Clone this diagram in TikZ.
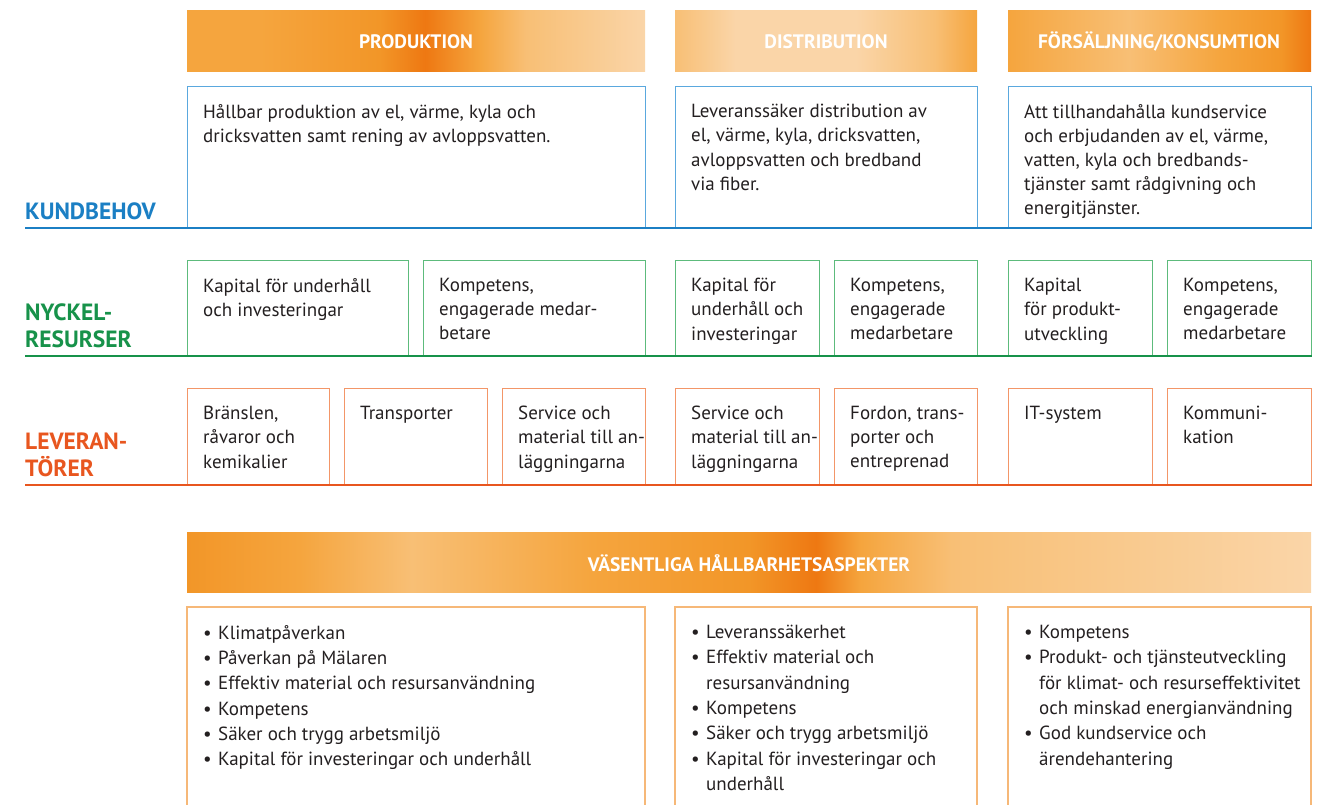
\documentclass[tikz,border=0pt]{standalone}
\usepackage{fontspec}
\setmainfont{PT Sans}
\usetikzlibrary{positioning}

\definecolor{kundblaa}{HTML}{1B7FC4}
\definecolor{kundram}{HTML}{5AA8DE}
\definecolor{nyckelgron}{HTML}{17924A}
\definecolor{nyckelram}{HTML}{5DBB7C}
\definecolor{levorange}{HTML}{E8561F}
\definecolor{levram}{HTML}{F39668}
\definecolor{aspram}{HTML}{F6B878}
\definecolor{textgra}{HTML}{231F20}
\definecolor{oblek}{HTML}{FAD5A8}
\definecolor{oljus}{HTML}{F8BF75}
\definecolor{omitt}{HTML}{F5A53E}
\definecolor{ostark}{HTML}{F29628}
\definecolor{omork}{HTML}{EE7812}

% toningar for rubrikfalten
\pgfdeclarehorizontalshading{prodsk}{100bp}{color(0bp)=(omitt); color(25bp)=(omitt); color(33bp)=(omitt); color(46bp)=(ostark); color(51bp)=(omork); color(57bp)=(omitt); color(62bp)=(oljus); color(75bp)=(oblek); color(100bp)=(oblek)}
\pgfdeclarehorizontalshading{distsk}{100bp}{color(0bp)=(oljus); color(25bp)=(oljus); color(35bp)=(oblek); color(55bp)=(oblek); color(68bp)=(oljus); color(75bp)=(omitt); color(100bp)=(omitt)}
\pgfdeclarehorizontalshading{forssk}{100bp}{color(0bp)=(omitt); color(25bp)=(omitt); color(45bp)=(oljus); color(60bp)=(omitt); color(70bp)=(ostark); color(75bp)=(omork); color(100bp)=(omork)}
\pgfdeclarehorizontalshading{vassk}{100bp}{color(0bp)=(ostark); color(25bp)=(ostark); color(30bp)=(omitt); color(35bp)=(oljus); color(43bp)=(omitt); color(50bp)=(ostark); color(53bp)=(omork); color(55bp)=(omitt); color(59bp)=(oljus); color(75bp)=(oblek); color(100bp)=(oblek)}

\tikzset{
  rubrik/.style={text=white, font=\bfseries\fontsize{19.5}{22}\selectfont, inner sep=0pt},
  etikett/.style={font=\bfseries\fontsize{23.5}{27}\selectfont, align=left, inner sep=0pt, anchor=base west},
  ruta/.style={draw, line width=1.2pt, anchor=north west, inner sep=0pt},
  brodtext/.style={text=textgra, font=\fontsize{19}{24.2}\selectfont, align=left, inner sep=0pt, anchor=north west, execute at begin node=\rule{0pt}{17pt}},
  punkttext/.style={brodtext, font=\fontsize{19}{25.3}\selectfont},
  linje/.style={line width=2.6pt}
}
\newcommand{\punkt}{\makebox[15pt][l]{\textbullet}}
\newcommand{\indrag}{\hspace*{15pt}}

\begin{document}
\begin{tikzpicture}[x=1pt,y=-1pt] %hela figuren i pixelmatt
\useasboundingbox (0,0) rectangle (1326,804);
	%Rubrikfalt
\shade[shading=prodsk] (187,10) rectangle (645,71);
\shade[shading=distsk] (675,10) rectangle (977,71);
\shade[shading=forssk] (1008,10) rectangle (1311,71);
\node[rubrik] (prod) at (416,42) {PRODUKTION};
\node[rubrik] (dist) at (826,42) {DISTRIBUTION};
\node[rubrik] (fors) at (1159,42) {FÖRSÄLJNING/KONSUMTION};
	%Kundbehov
\node[ruta, draw=kundram, minimum width=458pt, minimum height=142pt] (kb1) at (187,86) {};
\node[ruta, draw=kundram, minimum width=302pt, minimum height=142pt] (kb2) at (675,86) {};
\node[ruta, draw=kundram, minimum width=303pt, minimum height=142pt] (kb3) at (1008,86) {};
\node[brodtext] (kb1t) at ([xshift=16pt,yshift=-18pt]kb1.north west) {Hållbar produktion av el, värme, kyla och\\dricksvatten samt rening av avloppsvatten.};
\node[brodtext] (kb2t) at ([xshift=16pt,yshift=-18pt]kb2.north west) {Leveranssäker distribution av\\el, värme, kyla, dricksvatten,\\avloppsvatten och bredband\\via fiber.};
\node[brodtext] (kb3t) at ([xshift=16pt,yshift=-18pt]kb3.north west) {Att tillhandahålla kundservice\\och erbjudanden av el, värme,\\vatten, kyla och bredbands-\\tjänster samt rådgivning och\\energitjänster.};
\node[etikett, text=kundblaa] (kund) at (25,219) {KUNDBEHOV};
\coordinate (kundv) at (25,228);
\draw[linje, kundblaa] (kundv) -- (kundv -| kb3.east); %bla linje
	%Nyckelresurser
\node[ruta, draw=nyckelram, minimum width=221pt, minimum height=96pt] (nr1) at (187,260) {};
\node[ruta, draw=nyckelram, minimum width=222pt, minimum height=96pt] (nr2) at (423,260) {};
\node[ruta, draw=nyckelram, minimum width=144pt, minimum height=96pt] (nr3) at (675,260) {};
\node[ruta, draw=nyckelram, minimum width=143pt, minimum height=96pt] (nr4) at (834,260) {};
\node[ruta, draw=nyckelram, minimum width=144pt, minimum height=96pt] (nr5) at (1008,260) {};
\node[ruta, draw=nyckelram, minimum width=144pt, minimum height=96pt] (nr6) at (1167,260) {};
\node[brodtext] (nr1t) at ([xshift=16pt,yshift=-18pt]nr1.north west) {Kapital för underhåll\\och investeringar};
\node[brodtext] (nr2t) at ([xshift=16pt,yshift=-18pt]nr2.north west) {Kompetens,\\engagerade medar-\\betare};
\node[brodtext] (nr3t) at ([xshift=16pt,yshift=-18pt]nr3.north west) {Kapital för\\underhåll och\\investeringar};
\node[brodtext] (nr4t) at ([xshift=16pt,yshift=-18pt]nr4.north west) {Kompetens,\\engagerade\\medarbetare};
\node[brodtext] (nr5t) at ([xshift=16pt,yshift=-18pt]nr5.north west) {Kapital\\för produkt-\\utveckling};
\node[brodtext] (nr6t) at ([xshift=16pt,yshift=-18pt]nr6.north west) {Kompetens,\\engagerade\\medarbetare};
\node[etikett, text=nyckelgron] (nyckel) at (25,347) {NYCKEL-\\RESURSER};
\coordinate (nyckelv) at (25,356);
\draw[linje, nyckelgron] (nyckelv) -- (nyckelv -| nr6.east); %gron linje
	%Leverantorer
\node[ruta, draw=levram, minimum width=142pt, minimum height=97pt] (lv1) at (187,388) {};
\node[ruta, draw=levram, minimum width=143pt, minimum height=97pt] (lv2) at (344,388) {};
\node[ruta, draw=levram, minimum width=143pt, minimum height=97pt] (lv3) at (502,388) {};
\node[ruta, draw=levram, minimum width=144pt, minimum height=97pt] (lv4) at (675,388) {};
\node[ruta, draw=levram, minimum width=143pt, minimum height=97pt] (lv5) at (834,388) {};
\node[ruta, draw=levram, minimum width=144pt, minimum height=97pt] (lv6) at (1008,388) {};
\node[ruta, draw=levram, minimum width=144pt, minimum height=97pt] (lv7) at (1167,388) {};
\node[brodtext] (lv1t) at ([xshift=16pt,yshift=-18pt]lv1.north west) {Bränslen,\\råvaror och\\kemikalier};
\node[brodtext] (lv2t) at ([xshift=16pt,yshift=-14pt]lv2.north west) {Transporter};
\node[brodtext] (lv3t) at ([xshift=16pt,yshift=-18pt]lv3.north west) {Service och\\material till an-\\läggningarna};
\node[brodtext] (lv4t) at ([xshift=16pt,yshift=-18pt]lv4.north west) {Service och\\material till an-\\läggningarna};
\node[brodtext] (lv5t) at ([xshift=16pt,yshift=-18pt]lv5.north west) {Fordon, trans-\\porter och\\entreprenad};
\node[brodtext] (lv6t) at ([xshift=16pt,yshift=-14pt]lv6.north west) {IT-system};
\node[brodtext] (lv7t) at ([xshift=16pt,yshift=-18pt]lv7.north west) {Kommuni-\\kation};
\node[etikett, text=levorange] (lev) at (25,476) {LEVERAN-\\TÖRER};
\coordinate (levv) at (25,485);
\draw[linje, levorange] (levv) -- (levv -| lv7.east); %orange linje
	%Vasentliga hallbarhetsaspekter
\shade[shading=vassk] (187,532) rectangle (1311,592);
\node[rubrik] (vas) at (749,563) {VÄSENTLIGA HÅLLBARHETSASPEKTER};
\coordinate (va1) at (187,607);
\coordinate (va2) at (675,607);
\coordinate (va3) at (1008,607);
\draw[aspram, line width=1.2pt] (187,806) |- (645,607) -- (645,806); %oppna rutor nedat
\draw[aspram, line width=1.2pt] (675,806) |- (977,607) -- (977,806);
\draw[aspram, line width=1.2pt] (1008,806) |- (1311,607) -- (1311,806);
\node[punkttext] (va1t) at ([xshift=16pt,yshift=-18pt]va1) {\punkt Klimatpåverkan\\\punkt Påverkan på Mälaren\\\punkt Effektiv material och resursanvändning\\\punkt Kompetens\\\punkt Säker och trygg arbetsmiljö\\\punkt Kapital för investeringar och underhåll};
\node[punkttext] (va2t) at ([xshift=16pt,yshift=-18pt]va2) {\punkt Leveranssäkerhet\\\punkt Effektiv material och\\\indrag resursanvändning\\\punkt Kompetens\\\punkt Säker och trygg arbetsmiljö\\\punkt Kapital för investeringar och\\\indrag underhåll};
\node[punkttext] (va3t) at ([xshift=16pt,yshift=-18pt]va3) {\punkt Kompetens\\\punkt Produkt- och tjänsteutveckling\\\indrag för klimat- och resurseffektivitet\\\indrag och minskad energianvändning\\\punkt God kundservice och\\\indrag ärendehantering};
\end{tikzpicture}
\end{document}
